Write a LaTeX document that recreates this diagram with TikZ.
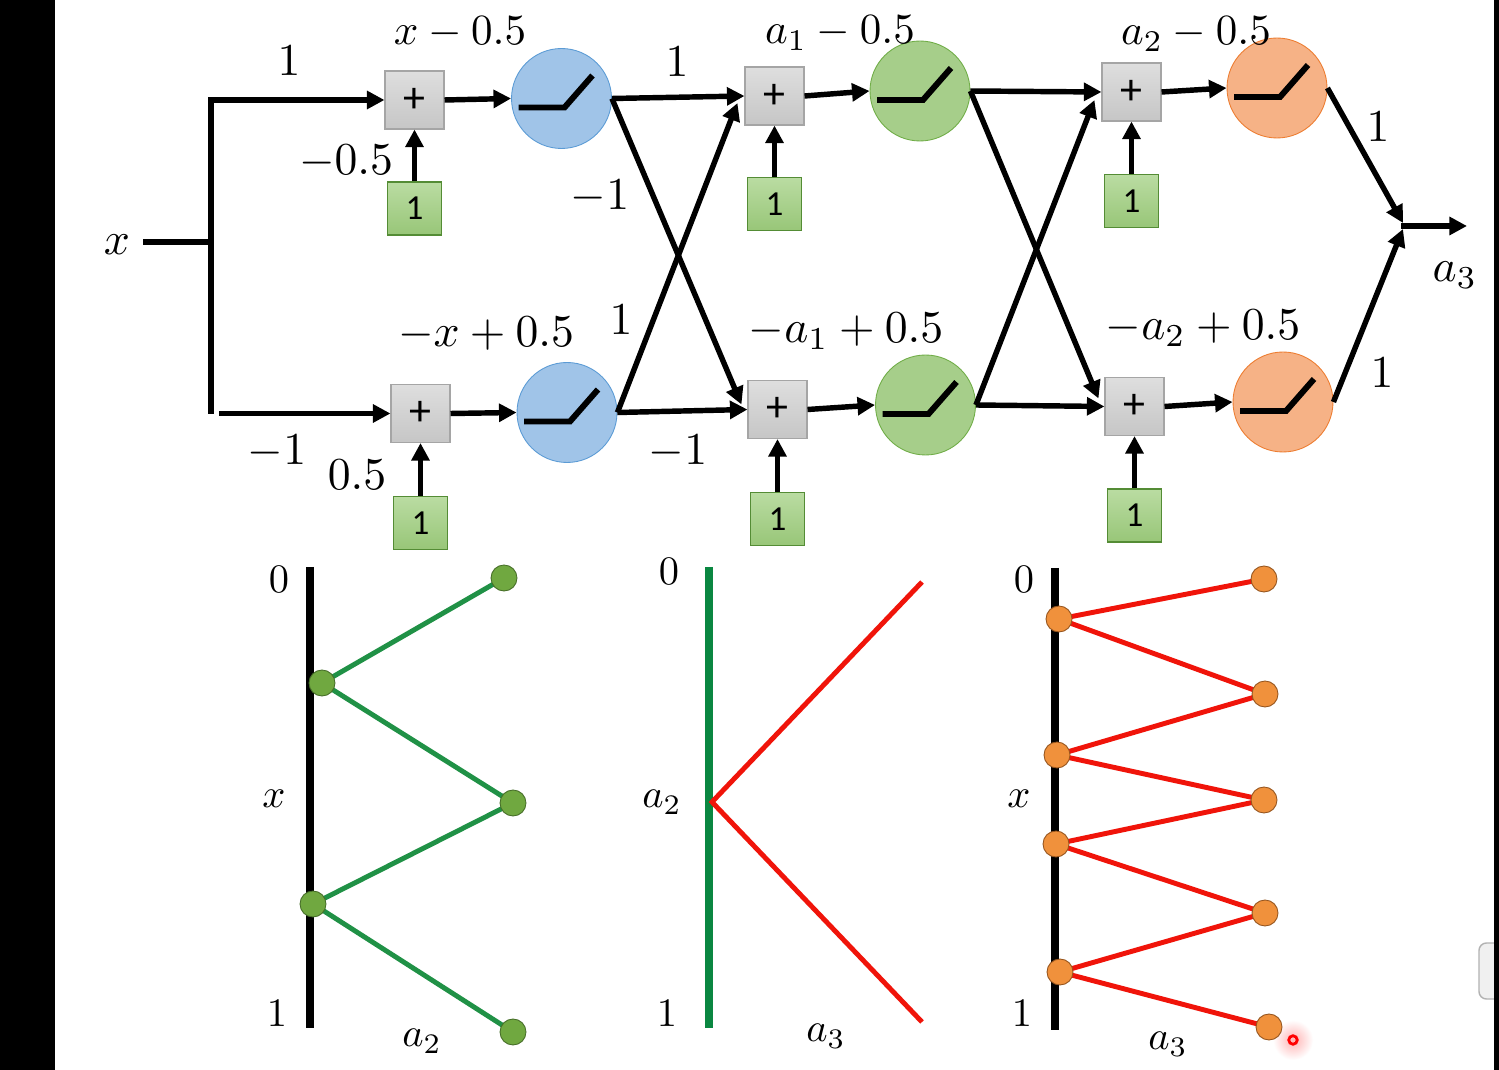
\documentclass[tikz,border=0pt]{standalone}
\usepackage{fontspec}
\newfontfamily\sansf{Carlito}
\usetikzlibrary{arrows.meta,calc}
\definecolor{plusbd}{RGB}{165,165,165}
\definecolor{plustop}{RGB}{222,222,222}
\definecolor{plusbot}{RGB}{198,198,198}
\definecolor{onetop}{RGB}{186,220,162}
\definecolor{onebot}{RGB}{152,198,120}
\definecolor{onebd}{RGB}{84,140,53}
\definecolor{bluefill}{RGB}{160,196,232}
\definecolor{bluebd}{RGB}{91,155,213}
\definecolor{greenfill}{RGB}{166,206,138}
\definecolor{greenbd}{RGB}{112,173,71}
\definecolor{orangefill}{RGB}{246,178,134}
\definecolor{orangebd}{RGB}{237,125,49}
\definecolor{glinec}{RGB}{32,145,70}
\definecolor{gdotf}{RGB}{112,168,64}
\definecolor{gdotbd}{RGB}{70,110,40}
\definecolor{axisg}{RGB}{10,135,65}
\definecolor{rlinec}{RGB}{240,20,10}
\definecolor{odotf}{RGB}{240,145,60}
\definecolor{odotbd}{RGB}{150,85,30}
\begin{document}
\begin{tikzpicture}[x=0.02cm,y=-0.02cm,
  plusbox/.style={draw=plusbd, line width=0.6pt, top color=plustop, bottom color=plusbot,
    minimum width=1.18cm, minimum height=1.16cm, inner sep=0pt, font=\sansf\fontsize{25}{25}\selectfont},
  onebox/.style={draw=onebd, line width=0.6pt, top color=onetop, bottom color=onebot,
    minimum width=1.08cm, minimum height=1.06cm, inner sep=0pt, font=\sansf\fontsize{20}{20}\selectfont},
  neuron/.style={circle, minimum size=2cm, inner sep=0pt, line width=0.5pt},
  blueN/.style={neuron, fill=bluefill, draw=bluebd},
  greenN/.style={neuron, fill=greenfill, draw=greenbd},
  orangeN/.style={neuron, fill=orangefill, draw=orangebd},
  wire/.style={line width=3.1pt},
  arr/.style={wire, -{Triangle[length=10pt,width=10pt]}},
  relu/.style={line width=3.4pt},
  lab/.style={font=\fontsize{10}{12}\selectfont, scale=2.6, anchor=base, inner sep=0pt},
  toplab/.style={font=\fontsize{10}{12}\selectfont, scale=2.45, anchor=base, inner sep=0pt},
  blab/.style={font=\fontsize{10}{12}\selectfont, scale=2.3, anchor=base, inner sep=0pt},
  gdot/.style={circle, minimum size=0.52cm, inner sep=0pt, fill=gdotf, draw=gdotbd, line width=0.5pt},
  odot/.style={circle, minimum size=0.52cm, inner sep=0pt, fill=odotf, draw=odotbd, line width=0.5pt},
  gline/.style={line width=2.8pt, draw=glinec},
  rline/.style={line width=2.8pt, draw=rlinec},
  axisline/.style={line width=5.1pt}
]
\useasboundingbox (0,0) rectangle (1499,1070);
\fill[white] (0,0) rectangle (1499,1070);

% ---------- network nodes ----------
\node[plusbox] (p1) at (414.5,100) {+};
\node[onebox]  (b1) at (414.5,208.5) {1};
\node[blueN]   (c1) at (561.5,98.5) {};
\node[plusbox] (p2) at (774.5,96) {+};
\node[onebox]  (b2) at (774.5,204) {1};
\node[greenN]  (c2) at (920,91) {};
\node[plusbox] (p3) at (1131.5,92) {+};
\node[onebox]  (b3) at (1131.5,201) {1};
\node[orangeN] (c5) at (1277,88) {};

\node[plusbox] (p4) at (420.5,413.5) {+};
\node[onebox]  (b4) at (420.5,523) {1};
\node[blueN]   (c3) at (567,412.5) {};
\node[plusbox] (p5) at (777.5,409.5) {+};
\node[onebox]  (b5) at (777.5,519) {1};
\node[greenN]  (c4) at (925.5,405) {};
\node[plusbox] (p6) at (1134.5,406.5) {+};
\node[onebox]  (b6) at (1134.5,515.5) {1};
\node[orangeN] (c6) at (1283,402) {};

\foreach \c in {c1,c2,c3,c4,c5,c6}
  \draw[relu] (\c.center) ++(-43,9) -- ++(46,0) -- ++(28,-32);

% ---------- input ----------
\node[lab] (xl) at (117,255) {$x$};
\coordinate (xs) at (143,242);
\coordinate (sm) at (211,242);
\coordinate (st) at (211,100);
\coordinate (sb) at (211,414);
\coordinate (sb2) at (219,413.5);
\draw[wire] (xs) -- (sm);
\draw[arr] (sb) -- (st) -- (p1.west);
\draw[arr] (sb2) -- (p4.west);

% bias arrows
\foreach \b/\p in {b1/p1,b2/p2,b3/p3,b4/p4,b5/p5,b6/p6}
  \draw[arr] (\b.north) -- (\p.south);

% layer connections
\draw[arr] (p1.east) -- (c1.west);
\draw[arr] (p4.east) -- (c3.west);
\draw[arr] (c1.east) -- (p2.west);
\draw[arr] (c1.east) -- ([xshift=-0.12cm,yshift=0.1cm]p5.west);
\draw[arr] (c3.east) -- ([xshift=-0.14cm,yshift=-0.14cm]p2.west);
\draw[arr] (c3.east) -- (p5.west);
\draw[arr] (p2.east) -- (c2.west);
\draw[arr] (p5.east) -- (c4.west);
\draw[arr] (c2.east) -- (p3.west);
\draw[arr] (c2.east) -- ([xshift=-0.12cm,yshift=0.16cm]p6.west);
\draw[arr] (c4.east) -- ([xshift=-0.14cm,yshift=-0.16cm]p3.west);
\draw[arr] (c4.east) -- (p6.west);
\draw[arr] (p3.east) -- (c5.west);
\draw[arr] (p6.east) -- (c6.west);

\coordinate (join) at (1403,226);
\coordinate (outend) at (1467,226);
\draw[arr] (c5.east) -- ([yshift=0.06cm]join);
\draw[arr] (c6.east) -- ([yshift=-0.06cm]join);
\draw[arr] ([xshift=-0.04cm]join) -- (outend);

% ---------- labels ----------
\node[lab] (l1) at (289,76) {$1$};
\node[lab] (l2) at (346,175) {$-0.5$};
\node[lab] (l3) at (277,465) {$-1$};
\node[lab] (l4) at (357,490) {$0.5$};
\node[lab] (l5) at (677,77) {$1$};
\node[lab] (l6) at (600,210) {$-1$};
\node[lab] (l7) at (621,335) {$1$};
\node[lab] (l8) at (678,465) {$-1$};
\node[lab] (l9) at (1378,142) {$1$};
\node[lab] (l10) at (1382,388) {$1$};
\node[lab] (la3) at (1455,282) {$a_3$};

\node[toplab] (s1) at (460,45) {$x-0.5$};
\node[toplab] (s2) at (840,44) {$a_1-0.5$};
\node[toplab] (s3) at (1196,45) {$a_2-0.5$};
\node[lab] (s4) at (486,347) {$-x+0.5$};
\node[lab] (s5) at (846,343) {$-a_1+0.5$};
\node[lab] (s6) at (1203,340) {$-a_2+0.5$};

% ---------- panel 1 ----------
\coordinate (ax1t) at (310,567);
\coordinate (ax1b) at (310,1028);
\draw[axisline] (ax1t) -- (ax1b);
\coordinate (gR1) at (504,578);
\coordinate (gL1) at (322,683);
\coordinate (gR2) at (513,803);
\coordinate (gL2) at (313,904);
\coordinate (gR3) at (513,1032);
\draw[gline] (gR1) -- (gL1) -- (gR2) -- (gL2) -- (gR3);
\foreach \d in {gR1,gL1,gR2,gL2,gR3} \node[gdot] at (\d) {};
\node[blab] (q0) at (279,593) {$0$};
\node[blab] (q1) at (277,1027) {$1$};
\node[blab] (qx) at (274,808) {$x$};
\node[blab] (qa) at (422,1047) {$a_2$};

% ---------- panel 2 ----------
\coordinate (ax2t) at (709,567);
\coordinate (ax2b) at (709,1028);
\draw[line width=4.5pt, axisg] (ax2t) -- (ax2b);
\coordinate (rT) at (922,582);
\coordinate (rM) at (712,802);
\coordinate (rB) at (922,1022);
\draw[rline] (rT) -- (rM) -- (rB);
\node[blab] (r0) at (669,585) {$0$};
\node[blab] (r1) at (667,1027) {$1$};
\node[blab] (ra2) at (662,808) {$a_2$};
\node[blab] (ra3) at (826,1042) {$a_3$};

% ---------- panel 3 ----------
\shade[inner color=red!30, outer color=white] (1293,1040) circle (0.4cm);
\coordinate (ax3t) at (1055,568);
\coordinate (ax3b) at (1055,1030);
\draw[axisline] (ax3t) -- (ax3b);
\coordinate (oR1) at (1264,579);
\coordinate (oL1) at (1059,619);
\coordinate (oR2) at (1265,694);
\coordinate (oL2) at (1057,755);
\coordinate (oR3) at (1264,800);
\coordinate (oL3) at (1056,844);
\coordinate (oR4) at (1265,913);
\coordinate (oL4) at (1060,972);
\coordinate (oR5) at (1269,1027);
\draw[rline] (oR1) -- (oL1) -- (oR2) -- (oL2) -- (oR3) -- (oL3) -- (oR4) -- (oL4) -- (oR5);
\foreach \d in {oR1,oL1,oR2,oL2,oR3,oL3,oR4,oL4,oR5} \node[odot] at (\d) {};
\node[blab] (t0) at (1024,593) {$0$};
\node[blab] (t1) at (1022,1027) {$1$};
\node[blab] (tx) at (1019,808) {$x$};
\node[blab] (ta) at (1168,1050) {$a_3$};
\draw[red, line width=1.6pt] (1293,1040) circle (0.085cm);

% ---------- frame ----------
\draw[gray!60, fill=gray!12, rounded corners=0.15cm, line width=0.8pt] (1479,943) rectangle (1510,999);
\fill[black] (0,0) rectangle (55,1070);
\fill[black] (1494,0) rectangle (1499,1070);
\end{tikzpicture}
\end{document}
